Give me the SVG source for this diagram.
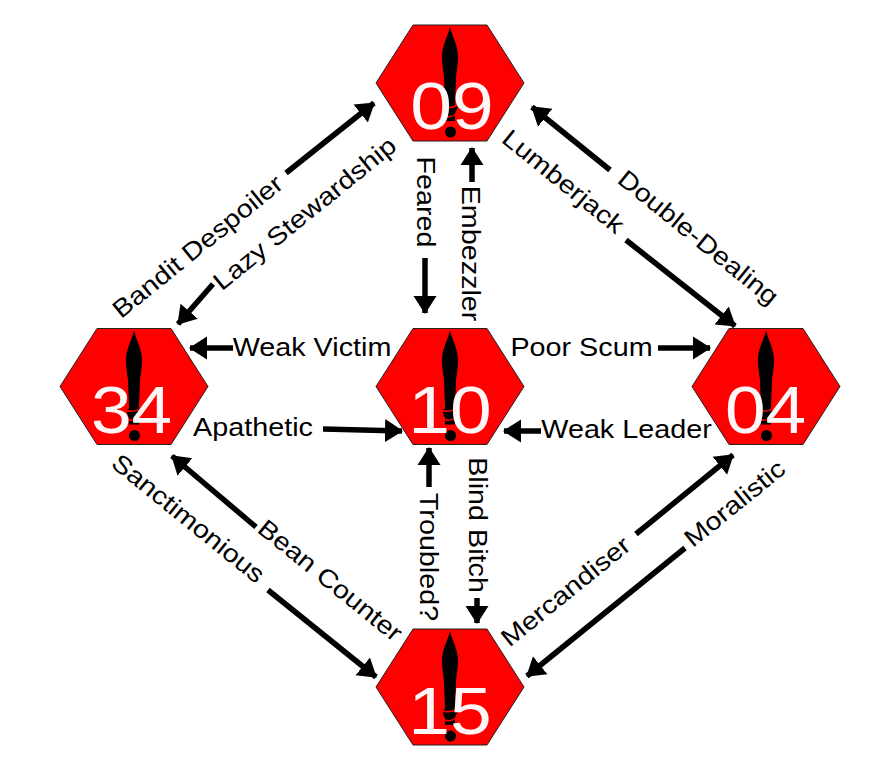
<svg xmlns="http://www.w3.org/2000/svg" width="875" height="775" viewBox="0 0 875 775">
<style>
.hex{fill:#f00;stroke:#222;stroke-width:1}
.dag{fill:#000}
.sw{fill:none;stroke:#f00;stroke-width:1.5}
.num{font:67px "Liberation Sans",Arial,sans-serif;fill:#fff;fill-opacity:.97;text-anchor:middle}
.lab{font:25px "Liberation Sans",Arial,sans-serif;fill:#000;text-anchor:middle}
.lav{font:26.500px "Liberation Sans",Arial,sans-serif;fill:#000;text-anchor:middle}
.con{stroke:#000;stroke-width:5.500;fill:none;marker-end:url(#a)}
</style>
<defs>
<marker id="a" markerUnits="userSpaceOnUse" markerWidth="24" markerHeight="26" refX="17" refY="13" orient="auto"><path d="M0 1.500L18 13L0 24.500Z" fill="#000"/></marker>
<g id="hexbase">
<path class="hex" d="M-37-58H37L74 0L37 58H-37L-74 0Z"/>
<path class="dag" d="M0-56C3-44 8-38 8-26C8-18 6.500-12 6-6L5 22L8 23C7 27 5 29 5 31L5 38H-5L-5 31C-7 29-7 26-7 23L-5 22L-6-6C-6.500-12-8-18-8-26C-8-38-3-44 0-56Z"/>
<circle class="dag" cx="0.500" cy="49" r="5.500"/>
<path class="sw" d="M-7 24C-2 26 4 24 8 22M-5 33C-1 35 3 33 6 31"/>
</g>
</defs>
<g id="connectors">
<path class="con" d="M286 173L374 103"/>
<path class="con" d="M213 284L178 324"/>
<path class="con" d="M610 170L532 107"/>
<path class="con" d="M626 240L735 326"/>
<path class="con" d="M425 258V313"/>
<path class="con" d="M472 182V148"/>
<path class="con" d="M233 348H190"/>
<path class="con" d="M658 348H710"/>
<path class="con" d="M323 429L402 431"/>
<path class="con" d="M541 431H504"/>
<path class="con" d="M429 487V448"/>
<path class="con" d="M477 598V623"/>
<path class="con" d="M256 527L172 456"/>
<path class="con" d="M268 590L376 677"/>
<path class="con" d="M636 534L733 455"/>
<path class="con" d="M685 548L527 676"/>
</g>
<g id="node-09"><use href="#hexbase" x="450" y="83"/><text class="num" transform="translate(452 129) scale(1.12 1)">09</text></g>
<g id="node-34"><use href="#hexbase" x="134" y="386.500"/><text class="num" transform="translate(131.500 433) scale(1.09 1)">34</text></g>
<g id="node-10"><use href="#hexbase" x="450" y="386.500"/><text class="num" transform="translate(450 433) scale(1.12 1)">10</text></g>
<g id="node-04"><use href="#hexbase" x="766" y="386.500"/><text class="num" transform="translate(765.500 433) scale(1.09 1)">04</text></g>
<g id="node-15"><use href="#hexbase" x="450" y="687"/><text class="num" transform="translate(450 734) scale(1.12 1)">15</text></g>
<g id="labels">
<text class="lab" transform="translate(203 253) rotate(-39) scale(1.15 1)">Bandit Despoiler</text>
<text class="lab" transform="translate(310 220) rotate(-39) scale(1.15 1)">Lazy Stewardship</text>
<text class="lab" transform="translate(558 188) rotate(39) scale(1.15 1)">Lumberjack</text>
<text class="lab" transform="translate(693 244) rotate(39) scale(1.15 1)">Double-Dealing</text>
<text class="lav" transform="translate(417 202) rotate(90) scale(1.085 1)">Feared</text>
<text class="lav" transform="translate(462 253.500) rotate(90) scale(1.085 1)">Embezzler</text>
<text class="lab" transform="translate(312 356) scale(1.15 1)">Weak Victim</text>
<text class="lab" transform="translate(581.500 356) scale(1.15 1)">Poor Scum</text>
<text class="lab" transform="translate(253 436) scale(1.15 1)">Apathetic</text>
<text class="lab" transform="translate(626.500 438) scale(1.15 1)">Weak Leader</text>
<text class="lav" transform="translate(420 557) rotate(90) scale(1.085 1)">Troubled?</text>
<text class="lav" transform="translate(469 525) rotate(90) scale(1.085 1)">Blind Bitch</text>
<text class="lab" transform="translate(183 525) rotate(39) scale(1.15 1)">Sanctimonious</text>
<text class="lab" transform="translate(325 587) rotate(39) scale(1.15 1)">Bean Counter</text>
<text class="lab" transform="translate(571 598) rotate(-39) scale(1.15 1)">Mercandiser</text>
<text class="lab" transform="translate(740 510) rotate(-39) scale(1.15 1)">Moralistic</text>
</g>
</svg>
